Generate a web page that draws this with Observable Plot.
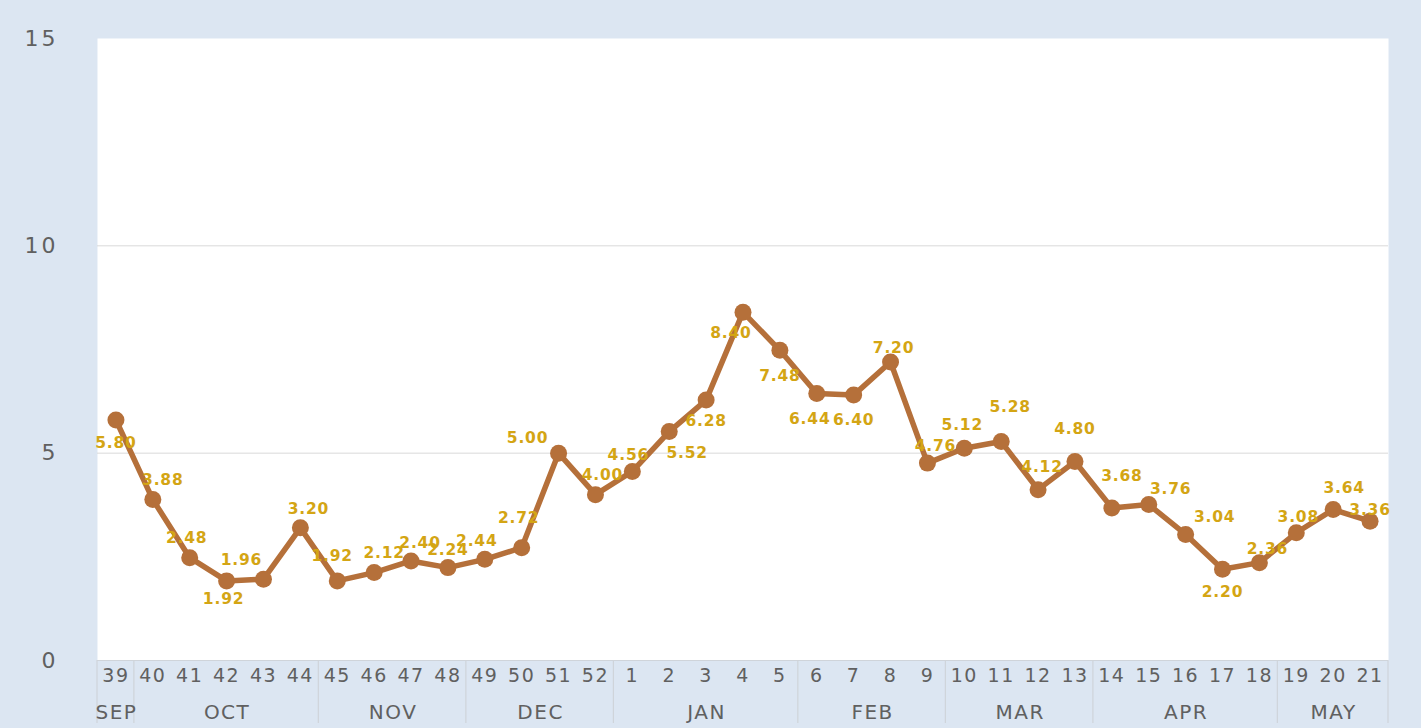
<!DOCTYPE html>
<html>
<head>
<meta charset="utf-8">
<script src="https://cdn.jsdelivr.net/npm/d3@7"></script>
<script src="https://cdn.jsdelivr.net/npm/@observablehq/plot@0.6"></script>
<style>
  html, body { margin: 0; padding: 0; background: #dce6f2; }
  #chart svg { display: block; }
</style>
</head>
<body>
<div id="chart"></div>
<script>
// ---- data ----
const weeks = ["39","40","41","42","43","44","45","46","47","48","49","50","51","52",
               "1","2","3","4","5","6","7","8","9","10","11","12","13",
               "14","15","16","17","18","19","20","21"];
const values = [5.80,3.88,2.48,1.92,1.96,3.20,1.92,2.12,2.40,2.24,2.44,2.72,5.00,4.00,
                4.56,5.52,6.28,8.40,7.48,6.44,6.40,7.20,4.76,5.12,5.28,4.12,4.80,
                3.68,3.76,3.04,2.20,2.36,3.08,3.64,3.36];
const months     = ["SEP","OCT","NOV","DEC","JAN","FEB","MAR","APR","MAY"];
const monthFirst = ["39","40","45","49","1","6","10","14","19"];
const monthLast  = ["39","44","48","52","5","9","13","18","21"];
const yTicks = [0, 5, 10, 15];

// ---- label placement (styling, pixel offsets from each point) ----
const labelDx = [0,10,-3,-3,-22,8,-5,10,9,0,-8,-3,-31,7,-4,18,0,-12,0,-7,0,3,8,-2,9,4,0,10,22,29,0,8,2,11,0];
const labelDy = [23,-20,-20,18,-19,-19,-25,-20,-18,-18,-18,-30,-15,-20,-16,21,21,21,26,26,25,-14,-17,-23,-34,-23,-32,-32,-16,-17,23,-14,-16,-21,-11];

const data = weeks.map((w, i) => ({week: w, value: values[i]}));

const lineColor = "#b5703a";
const labelColor = "#d4a514";
const axisColor = "#606060";
const font = "DejaVu Sans, sans-serif";

function decorations(index, scales, values_, dimensions) {
  const x = scales.x, y = scales.y;
  const g = d3.create("svg:g");
  const pos = weeks.map(w => x(w));
  const step = pos[1] - pos[0];
  const bottom = dimensions.height - dimensions.marginBottom;
  // month separators
  const bounds = [pos[0] - step / 2];
  monthLast.forEach(w => bounds.push(x(w) + step / 2));
  g.append("g").attr("stroke", "#cfd4da").attr("stroke-width", 1.2)
    .selectAll("line").data(bounds).join("line")
    .attr("x1", d => d).attr("x2", d => d)
    .attr("y1", bottom).attr("y2", bottom + 63);
  // month labels
  g.append("g").attr("fill", axisColor).attr("font-family", font)
    .attr("font-size", 20).attr("letter-spacing", 1.5).attr("text-anchor", "middle")
    .selectAll("text").data(months).join("text")
    .attr("x", (d, i) => (x(monthFirst[i]) + x(monthLast[i])) / 2 + 1)
    .attr("y", bottom + 52)
    .attr("dy", "0.35em")
    .text(d => d);
  // data labels
  g.append("g").attr("fill", labelColor).attr("font-family", font)
    .attr("font-size", 15.5).attr("font-weight", "bold").attr("letter-spacing", 0.8)
    .attr("text-anchor", "middle")
    .selectAll("text").data(data).join("text")
    .attr("x", (d, i) => x(d.week) + labelDx[i] + 0.5)
    .attr("y", (d, i) => y(d.value) + labelDy[i])
    .attr("dy", "0.35em")
    .text(d => d.value.toFixed(2));
  return g.node();
}

const plot = Plot.plot({
  width: 1421,
  height: 728,
  marginLeft: 97,
  marginRight: 33,
  marginTop: 38,
  marginBottom: 68,
  style: {background: "#dce6f2", fontFamily: font, overflow: "visible"},
  x: {type: "point", domain: weeks, padding: 0.5, axis: null},
  y: {domain: [0, 15], ticks: yTicks, tickSize: 0, tickPadding: 39, label: null,
      tickFormat: d => String(d)},
  marks: [
    Plot.frame({fill: "white", stroke: null}),
    Plot.ruleY([5, 10], {stroke: "#d9d9d9", strokeWidth: 1}),
    Plot.ruleY([0], {stroke: "#cfd4da", strokeWidth: 1.2}),
    Plot.text(weeks, {x: d => d, frameAnchor: "bottom", dy: 21, fill: axisColor,
      fontSize: 19, text: d => d}),
    Plot.line(data, {x: "week", y: "value", stroke: lineColor, strokeWidth: 5.5,
      strokeLinejoin: "round"}),
    Plot.dot(data, {x: "week", y: "value", r: 8.5, fill: lineColor, stroke: null}),
    decorations
  ]
});

// style y axis tick labels
d3.select(plot).selectAll("g[aria-label='y-axis tick label'] text, g[aria-label='y-axis'] text")
  .attr("fill", axisColor).attr("font-size", 22).attr("letter-spacing", 3);
d3.select(plot).selectAll("g[aria-label='y-axis tick label'], g[aria-label='y-axis']")
  .attr("fill", axisColor).attr("font-size", 22);
d3.select(plot).selectAll("g[aria-label='text'] text").attr("letter-spacing", 1.5);

document.getElementById("chart").appendChild(plot);
</script>
</body>
</html>
